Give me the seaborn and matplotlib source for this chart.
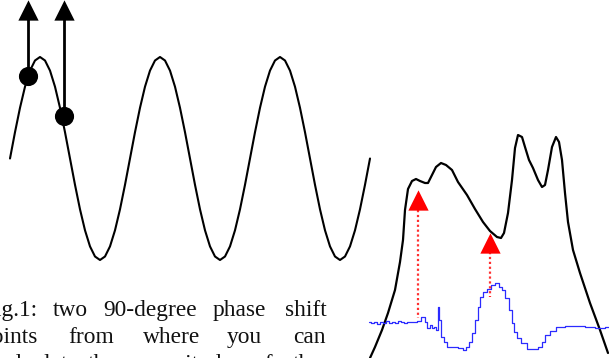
import matplotlib
matplotlib.use("Agg")
import matplotlib.pyplot as plt
import seaborn as sns

# --- data (pixel space, y grows downward) ---
wave_x = [10, 15, 20, 25, 30, 35, 40, 45, 50, 55, 60, 65, 70, 75, 80, 85, 90, 95,
          100, 105, 110, 115, 120, 125, 130, 135, 140, 145, 150, 155, 160, 165, 170,
          175, 180, 185, 190, 195, 200, 205, 210, 215, 220, 225, 230, 235, 240, 245,
          250, 255, 260, 265, 270, 275, 280, 285, 290, 295, 300, 305, 310, 315, 320,
          325, 330, 335, 340, 345, 350, 355, 360, 365, 370]
wave_y = [158.5, 132.2, 107.8, 86.7, 70.6, 60.5, 57, 60.5, 70.6, 86.7, 107.8, 132.2,
          158.5, 184.8, 209.3, 230.3, 246.4, 256.5, 260, 256.5, 246.4, 230.3, 209.3,
          184.8, 158.5, 132.2, 107.8, 86.7, 70.6, 60.5, 57, 60.5, 70.6, 86.7, 107.8,
          132.2, 158.5, 184.8, 209.3, 230.3, 246.4, 256.5, 260, 256.5, 246.4, 230.3,
          209.3, 184.8, 158.5, 132.2, 107.8, 86.7, 70.6, 60.5, 57, 60.5, 70.6, 86.7,
          107.8, 132.2, 158.5, 184.8, 209.3, 230.3, 246.4, 256.5, 260, 256.5, 246.4,
          230.3, 209.3, 184.8, 158.5]

phase_x = [28, 64]
phase_y = [76, 116]

spec_x = [370, 375, 382, 388, 395, 400, 403, 405, 408, 412, 416, 420, 425, 428, 432,
          436, 441, 446, 452, 458, 467, 475, 483, 490, 497, 501, 504, 508, 512, 515,
          518, 522, 525, 529, 533, 538, 542, 545, 548, 552, 556, 559, 562, 565, 568,
          573, 580, 590, 600, 608]
spec_y = [358, 347, 330, 313, 290, 262, 240, 210, 189, 181, 179, 181, 183, 183, 175,
          167, 163, 165, 170, 182, 195, 209, 222, 231, 237, 238, 233, 213, 180, 148,
          135, 137, 147, 160, 168, 180, 187, 185, 170, 147, 137, 142, 160, 193, 222,
          250, 273, 303, 330, 353]

sig_x = [369, 372, 375, 378, 381, 384, 387, 390, 393, 396, 399, 402, 405, 408, 411,
         415, 419, 423, 426, 428, 431, 433, 435, 437, 438, 440, 442, 445, 448, 455,
         460, 465, 467, 470, 473, 477, 478, 481, 485, 488, 493, 497, 500, 503, 507,
         510, 513, 515, 518, 523, 530, 535, 540, 543, 547, 552, 560, 570, 580, 590,
         600, 609]
sig_y = [322, 323, 322, 324, 322, 323, 321, 323, 322, 323, 321, 322, 323, 322, 322,
         322, 321, 317, 322, 328, 325, 328, 327, 330, 307, 320, 337, 342, 347, 347,
         348, 350, 347, 342, 333, 320, 307, 297, 292, 289, 285, 283, 287, 290, 298,
         310, 323, 332, 338, 343, 349, 349, 347, 342, 335, 331, 327, 326, 326, 327,
         328, 327]

mark_x = [418, 490]
mark_top = [210, 252]
mark_bottom = [318, 297]

caption_lines = [
    ["Fig.1:", "two", "90-degree", "phase", "shift"],
    ["points", "from", "where", "you", "can"],
    ["calculate", "the", "magnitude", "of", "the"],
]

# --- layout ---
caption_x = [[37, 53, 103, 213, 285],
             [38, 68, 143, 227, 293],
             [78, 88, 133, 253, 293]]
caption_base = [316, 343, 370]

sns.set_style("white")
fig = plt.figure(figsize=(6.09, 3.58), dpi=100)
ax = fig.add_axes([0, 0, 1, 1])

# sine wave with the two sample points
sns.lineplot(x=wave_x, y=wave_y, ax=ax, color="black", linewidth=1.5)
ax.vlines(phase_x, [18, 18], phase_y, color="black", linewidth=2.0)
sns.scatterplot(x=phase_x, y=[10, 10], ax=ax, marker="^", s=14.6 ** 2,
                color="black", linewidth=0)
sns.scatterplot(x=phase_x, y=phase_y, ax=ax, marker="o", s=13.8 ** 2,
                color="black", linewidth=0)

# spectrum-like curve and measured signal
sns.lineplot(x=spec_x, y=spec_y, ax=ax, color="black", linewidth=1.6)
sns.lineplot(x=sig_x, y=sig_y, ax=ax, color="#2b2bff", linewidth=0.9,
             drawstyle="steps-mid")
ax.vlines(mark_x, mark_top, mark_bottom, color="#ff3030", linewidth=1.6,
          linestyles=(0, (1, 1.2)))
sns.scatterplot(x=mark_x, y=[200, 242.5], ax=ax, marker="^", s=14.6 ** 2,
                color="#ff0000", linewidth=0, zorder=5)

# caption text (cropped on the left and bottom)
for words, xs, yb in zip(caption_lines, caption_x, caption_base):
    for i, (w, x) in enumerate(zip(words, xs)):
        ax.text(x, yb, w, ha="right" if i == 0 else "left", va="baseline",
                fontsize=16.8, family="Liberation Serif", color="#111111")

ax.set_xlim(0, 609)
ax.set_ylim(358, 0)
ax.axis("off")
fig.savefig("out.png", dpi=100)
